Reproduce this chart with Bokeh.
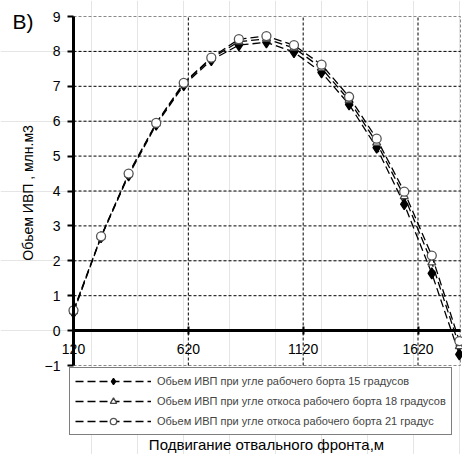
from bokeh.plotting import figure
from bokeh.models import FixedTicker, Label, Legend, LegendItem, LinearAxis, Range1d
from bokeh.embed import file_html
from bokeh.resources import INLINE

# ---- data ----
x_vals = [120, 240, 360, 480, 600, 720, 840, 960, 1080, 1200, 1320, 1440, 1560, 1680, 1800]
vol_15 = [0.52, 2.68, 4.45, 5.90, 7.03, 7.75, 8.18, 8.26, 7.98, 7.40, 6.48, 5.24, 3.62, 1.64, -0.68]
vol_18 = [0.55, 2.69, 4.48, 5.93, 7.07, 7.80, 8.28, 8.36, 8.10, 7.52, 6.60, 5.38, 3.85, 1.95, -0.45]
vol_21 = [0.58, 2.70, 4.50, 5.95, 7.10, 7.82, 8.35, 8.44, 8.18, 7.62, 6.70, 5.50, 3.98, 2.15, -0.30]
x_ticks = [120, 620, 1120, 1620]
x_grid_ticks = [620, 1120, 1620]
y_ticks = [-1, 0, 1, 2, 3, 4, 5, 6, 7, 8, 9]
y_grid_ticks = [1, 2, 3, 4, 5, 6, 7, 8]
x_axis_max = 1805
labels = [
    "Обьем ИВП при угле рабочего борта 15 градусов",
    "Обьем ИВП при угле откоса рабочего борта 18 градусов",
    "Обьем ИВП при угле откоса рабочего борта 21 градус",
]
panel_label = "В)"
y_title = "Обьем ИВП  , млн.м3"
x_title = "Подвигание отвального фронта,м"

FONT = "Liberation Sans"

W, H = 462, 454
# plot box in pixels (left, right, top, bottom)
BL, BR, BT, BB = 73, 460, 16, 365
x_min, y_min, y_max = x_ticks[0], y_ticks[0], y_ticks[-1]
sx = (BR - BL) / (x_axis_max - x_min)
sy = (BB - BT) / (y_max - y_min)
xr = Range1d(x_min - BL / sx, x_axis_max + (W - BR) / sx)
yr = Range1d(y_min - (H - BB) / sy, y_max + BT / sy)

p = figure(width=W, height=H, output_backend="svg", toolbar_location=None,
           x_range=xr, y_range=yr, x_axis_location=None, y_axis_location=None,
           min_border=0)
p.background_fill_color = "white"
p.border_fill_color = "white"
p.outline_line_color = None

# plot box outline
p.quad(left=[x_min], right=[x_axis_max], bottom=[y_min], top=[y_max],
       fill_color=None, line_color="#888888", line_dash="3 2", line_width=1)

# grid lines
p.segment(x0=x_grid_ticks, y0=[y_min] * len(x_grid_ticks), x1=x_grid_ticks,
          y1=[y_max] * len(x_grid_ticks), line_color="black", line_dash="3 2", line_width=1)
p.segment(x0=[x_min] * len(y_grid_ticks), y0=y_grid_ticks, x1=[x_axis_max] * len(y_grid_ticks),
          y1=y_grid_ticks, line_color="black", line_dash="3 2", line_width=1)

# y axis at x = 120
ya = LinearAxis(fixed_location=x_min, bounds=(y_min, y_max))
ya.ticker = FixedTicker(ticks=y_ticks)
ya.axis_line_width = 3
ya.axis_line_color = "black"
ya.major_tick_line_width = 2
ya.major_tick_in = 0
ya.major_tick_out = 6
ya.minor_tick_line_color = None
ya.major_label_text_font = FONT
ya.major_label_text_font_size = "14px"
ya.major_label_text_color = "black"
ya.major_label_standoff = 7
ya.axis_label = y_title
ya.axis_label_text_font = FONT
ya.axis_label_text_font_size = "14px"
ya.axis_label_text_font_style = "normal"
ya.axis_label_text_color = "black"
ya.axis_label_standoff = 6
p.add_layout(ya, "left")

# x axis crossing at y = 0
xa = LinearAxis(fixed_location=0, bounds=(x_min, x_axis_max))
xa.ticker = FixedTicker(ticks=x_ticks)
xa.axis_line_width = 3
xa.axis_line_color = "black"
xa.major_tick_line_width = 2
xa.major_tick_in = 4
xa.major_tick_out = 4
xa.minor_tick_line_color = None
xa.major_label_text_font = FONT
xa.major_label_text_font_size = "14px"
xa.major_label_text_color = "black"
xa.major_label_standoff = 9
p.add_layout(xa, "below")

series = [
    (vol_15, "diamond", "black", "black", 11),
    (vol_18, "triangle", "white", "#444444", 8),
    (vol_21, "circle", "white", "#555555", 9),
]
items = []
for (ys, marker, fill, edge, size), lab in zip(series, labels):
    ln = p.line(x_vals, ys, line_color="black", line_width=1.3, line_dash="8 4")
    sc = p.scatter(x_vals, ys, marker=marker, size=size, fill_color=fill,
                   line_color=edge, line_width=1.3)
    items.append(LegendItem(label=lab, renderers=[ln, sc]))

legend = Legend(items=items, location=(69, H - 435), orientation="vertical")
legend.border_line_color = "black"
legend.border_line_width = 1
legend.background_fill_color = "white"
legend.background_fill_alpha = 1
legend.label_text_font = FONT
legend.label_text_font_size = "11px"
legend.glyph_width = 76
legend.glyph_height = 16
legend.label_height = 16
legend.spacing = 4
legend.padding = 5
legend.margin = 0
legend.label_standoff = 6
p.add_layout(legend, "center")

p.add_layout(Label(x=12, y=H - 9, x_units="screen", y_units="screen", text=panel_label,
                   text_font=FONT, text_font_size="21px", text_baseline="top",
                   text_align="left", text_color="black"))
p.add_layout(Label(x=266, y=H - 444, x_units="screen", y_units="screen", text=x_title,
                   text_font=FONT, text_font_size="15px", text_baseline="middle",
                   text_align="center", text_color="black"))

open("out.html", "w").write(file_html(p, INLINE))
